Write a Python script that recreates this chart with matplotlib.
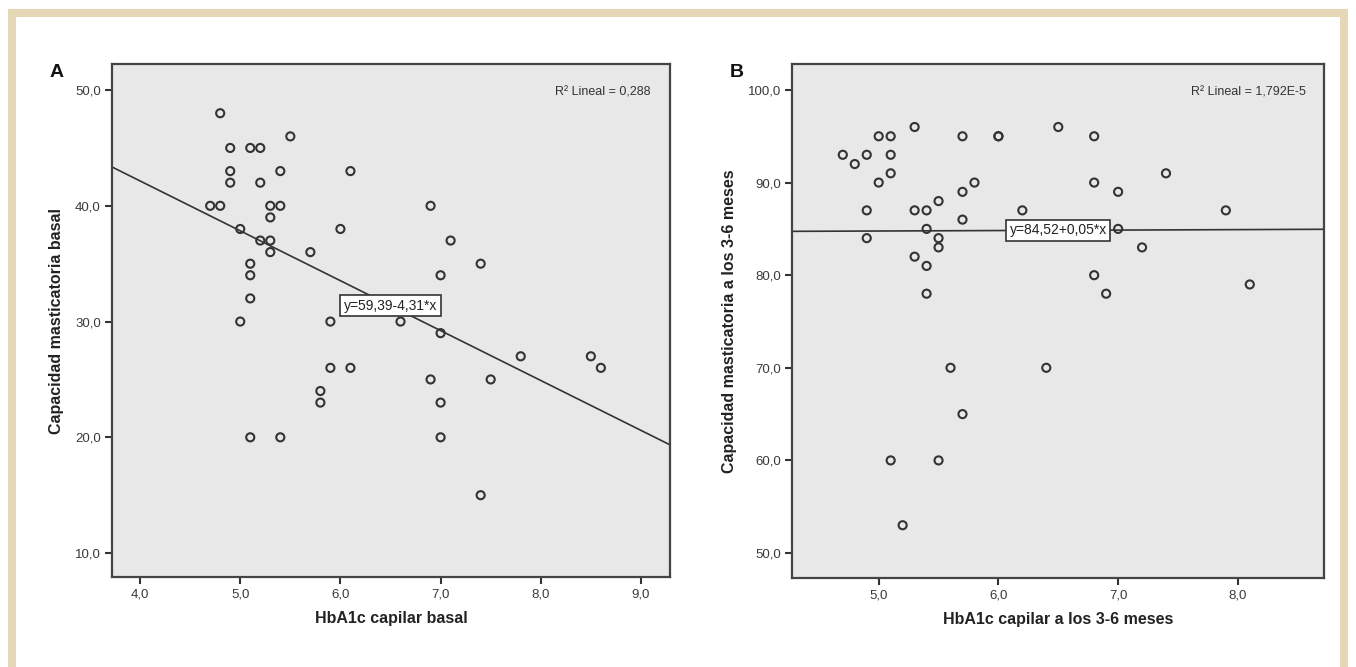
import matplotlib
matplotlib.use("Agg")
import matplotlib.pyplot as plt
from matplotlib.patches import Rectangle
from matplotlib.ticker import FuncFormatter
import numpy as np

plt.rcParams['font.family'] = ['Liberation Sans', 'DejaVu Sans']

# Panel A: basal HbA1c vs basal chewing capacity
hba1c_basal = [4.8, 4.9, 5.1, 5.2, 5.5, 4.9, 5.4, 6.1, 4.9, 5.2,
               4.7, 4.8, 5.3, 5.4, 5.3, 5.0, 6.0, 5.2, 5.3, 5.3,
               5.7, 5.1, 5.1, 5.1, 5.0, 5.9, 6.6, 6.9, 7.1, 7.4,
               7.0, 7.0, 7.8, 8.5, 8.6, 5.9, 6.1, 5.8, 5.8, 6.9,
               7.5, 7.0, 7.0, 7.4, 5.1, 5.4]
masticatoria_basal = [48, 45, 45, 45, 46, 43, 43, 43, 42, 42,
                      40, 40, 40, 40, 39, 38, 38, 37, 37, 36,
                      36, 35, 34, 32, 30, 30, 30, 40, 37, 35,
                      34, 29, 27, 27, 26, 26, 26, 24, 23, 25,
                      25, 23, 20, 15, 20, 20]
fit_a = (59.39, -4.31)

# Panel B: HbA1c at 3-6 months vs chewing capacity at 3-6 months
hba1c_3_6 = [4.7, 4.8, 4.9, 5.0, 5.1, 5.1, 5.1, 5.0, 5.3, 4.9,
             4.9, 5.3, 5.4, 5.5, 5.4, 5.5, 5.5, 5.3, 5.4, 5.4,
             5.7, 5.7, 5.8, 5.7, 6.0, 6.0, 6.2, 6.5, 6.8, 6.8,
             7.0, 7.4, 7.9, 7.0, 7.2, 6.8, 6.9, 8.1, 5.6, 6.4,
             5.7, 5.1, 5.5, 5.2]
masticatoria_3_6 = [93, 92, 93, 95, 95, 93, 91, 90, 96, 87,
                    84, 87, 87, 88, 85, 84, 83, 82, 81, 78,
                    95, 89, 90, 86, 95, 95, 87, 96, 95, 90,
                    89, 91, 87, 85, 83, 80, 78, 79, 70, 70,
                    65, 60, 60, 53]
fit_b = (84.52, 0.05)

panels = [
    dict(x=hba1c_basal, y=masticatoria_basal, fit=fit_a,
         eq="y=59,39-4,31*x", r2="R² Lineal = 0,288",
         xlabel="HbA1c capilar basal", ylabel="Capacidad masticatoria basal",
         xlim=(3.72, 9.29), ylim=(7.93, 52.25),
         xticks=[4, 5, 6, 7, 8, 9], yticks=[10, 20, 30, 40, 50],
         pos=[0.0826, 0.1349, 0.4115, 0.7691], letter="A", lx=0.042),
    dict(x=hba1c_3_6, y=masticatoria_3_6, fit=fit_b,
         eq="y=84,52+0,05*x", r2="R² Lineal = 1,792E-5",
         xlabel="HbA1c capilar a los 3-6 meses",
         ylabel="Capacidad masticatoria a los 3-6 meses",
         xlim=(4.276, 8.72), ylim=(47.3, 102.8),
         xticks=[5, 6, 7, 8], yticks=[50, 60, 70, 80, 90, 100],
         pos=[0.5841, 0.1334, 0.3923, 0.7706], letter="B", lx=0.5435),
]

fig = plt.figure(figsize=(13.56, 6.67), dpi=100)

# beige frame around the figure
frame_col = '#e6d7b6'
fig.patches.append(Rectangle((0.0088, -0.004), 0.9824, 0.9845, transform=fig.transFigure,
                             fill=False, edgecolor=frame_col, linewidth=5.8, zorder=0))

comma = FuncFormatter(lambda v, p: f"{v:.1f}".replace(".", ","))

for p in panels:
    ax = fig.add_axes(p["pos"])
    ax.set_facecolor('#e8e8e8')
    for s in ax.spines.values():
        s.set_color('#444444')
        s.set_linewidth(1.6)

    ax.scatter(p["x"], p["y"], s=34, facecolors='none', edgecolors='#333333',
               linewidths=1.5, zorder=3)

    x0, x1 = p["xlim"]
    xs = np.array([x0, x1])
    a, b = p["fit"]
    ax.plot(xs, a + b * xs, color='#333333', linewidth=1.2, zorder=2)

    xm = 6.5
    ax.text(xm, a + b * xm, p["eq"], ha='center', va='center', fontsize=10,
            color='#222222', zorder=4,
            bbox=dict(boxstyle='square,pad=0.25', facecolor='white',
                      edgecolor='#333333', linewidth=1.2))

    ax.text(0.965, 0.945, p["r2"], transform=ax.transAxes, ha='right',
            va='center', fontsize=9, color='#333333')

    ax.set_xlim(p["xlim"])
    ax.set_ylim(p["ylim"])
    ax.set_xticks(p["xticks"])
    ax.set_yticks(p["yticks"])
    ax.xaxis.set_major_formatter(comma)
    ax.yaxis.set_major_formatter(comma)
    ax.tick_params(direction='out', length=5, width=1.5, color='#333333',
                   labelsize=9.5, labelcolor='#3a3a3a', pad=3)

    ax.set_xlabel(p["xlabel"], fontsize=11.5, fontweight='bold', labelpad=8,
                  color='#222222')
    ax.set_ylabel(p["ylabel"], fontsize=11.5, fontweight='bold', labelpad=8,
                  color='#222222')

    fig.text(p["lx"], 0.892, p["letter"], fontsize=14, fontweight='bold',
             ha='center', va='center', color='#111111')

fig.savefig("out.png", dpi=100)
